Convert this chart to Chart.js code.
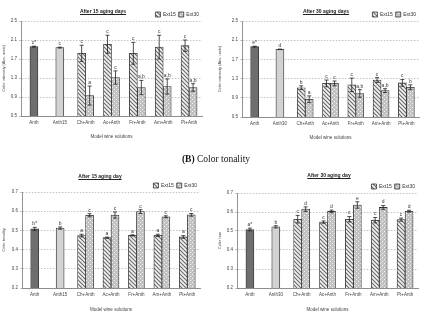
<!DOCTYPE html>
<html>
<head>
<meta charset="utf-8">
<script src="https://cdn.jsdelivr.net/npm/chart.js@4.4.0/dist/chart.umd.min.js"></script>
<style>
  body { margin: 0; background: #fff; width: 433px; height: 317px; overflow: hidden; position: relative; }
  .panel { position: absolute; }
  .ttl { position: absolute; font-family: "Liberation Sans Narrow", "Liberation Sans", Arial, sans-serif; font-size: 5px; font-weight: bold;
         text-decoration: underline; color: #222; transform: translateX(-50%); white-space: nowrap; z-index: 2; filter: grayscale(1); }
  #sec { position: absolute; left: 216px; top: 154px; transform: translateX(-50%); font-family: "Liberation Serif", serif;
         font-size: 9.5px; color: #111; white-space: nowrap; filter: grayscale(1); }
</style>
</head>
<body>
<canvas id="c1" class="panel" width="208" height="140" style="left:0;top:0"></canvas>
<canvas id="c2" class="panel" width="205" height="141" style="left:216px;top:0"></canvas>
<canvas id="c3" class="panel" width="204" height="142" style="left:0;top:171px"></canvas>
<canvas id="c4" class="panel" width="204" height="141" style="left:216px;top:172px"></canvas>
<div class="ttl" style="left:103px;top:8px">After 15 aging days</div>
<div class="ttl" style="left:326px;top:8px">After 30 aging days</div>
<div class="ttl" style="left:100px;top:173px">After 15 aging day</div>
<div class="ttl" style="left:329px;top:172px">After 30 aging day</div>
<div id="sec"><b>(B)</b> Color tonality</div>
<script>
const labels15 = ["Anth", "Anth15", "Ch+Anth", "Ac+Anth", "Fr+Anth", "Am+Anth", "Pt+Anth"];
const labels30 = ["Anth", "Anth30", "Ch+Anth", "Ac+Anth", "Fr+Anth", "Am+Anth", "Pt+Anth"];

// Colour intensity, after 15 days
const int15Control = [1.96, 1.94];
const int15ControlErr = [0.01, 0.01];
const int15ControlTags = ["c*", "c"];
const int15Ext15 = [1.82, 2.01, 1.82, 1.95, 1.98];
const int15Ext15Err = [0.17, 0.19, 0.23, 0.25, 0.12];
const int15Ext15Tags = ["c", "c", "c", "c", "c"];
const int15Ext30 = [0.93, 1.31, 1.10, 1.12, 1.10];
const int15Ext30Err = [0.20, 0.14, 0.15, 0.16, 0.08];
const int15Ext30Tags = ["a", "c", "a,b", "a,b", "a,b"];

// Colour intensity, after 30 days
const int30Control = [1.965, 1.91];
const int30ControlErr = [0.01, 0.005];
const int30ControlTags = ["e*", "d"];
const int30Ext15 = [1.11, 1.20, 1.17, 1.27, 1.21];
const int30Ext15Err = [0.04, 0.07, 0.14, 0.05, 0.07];
const int30Ext15Tags = ["b", "c", "c", "c", "c"];
const int30Ext30 = [0.87, 1.20, 0.99, 1.05, 1.12];
const int30Ext30Err = [0.07, 0.05, 0.08, 0.04, 0.05];
const int30Ext30Tags = ["a", "c", "a,b", "a,b", "b"];

// Colour tonality, after 15 days
const ton15Control = [0.508, 0.512];
const ton15ControlErr = [0.008, 0.006];
const ton15ControlTags = ["b*", "b"];
const ton15Ext15 = [0.473, 0.462, 0.474, 0.474, 0.466];
const ton15Ext15Err = [0.007, 0.003, 0.003, 0.006, 0.007];
const ton15Ext15Tags = ["a", "a", "a", "a", "a"];
const ton15Ext30 = [0.579, 0.580, 0.598, 0.571, 0.581];
const ton15Ext30Err = [0.008, 0.016, 0.010, 0.005, 0.007];
const ton15Ext30Tags = ["c", "c", "c", "c", "c"];

// Colour hue, after 30 days
const hue30Control = [0.508, 0.522];
const hue30ControlErr = [0.007, 0.006];
const hue30ControlTags = ["a*", "b"];
const hue30Ext15 = [0.562, 0.547, 0.562, 0.557, 0.560];
const hue30Ext15Err = [0.020, 0.006, 0.014, 0.014, 0.008];
const hue30Ext15Tags = ["c", "c", "c", "c", "c"];
const hue30Ext30 = [0.615, 0.603, 0.637, 0.624, 0.604];
const hue30Ext30Err = [0.012, 0.007, 0.017, 0.010, 0.005];
const hue30Ext30Tags = ["d", "d", "e", "d", "d"];

const FONT = "'Liberation Sans Narrow', 'Liberation Sans', Arial, sans-serif";

function hatchPattern() {
  const c = document.createElement("canvas");
  c.width = 4; c.height = 4;
  const g = c.getContext("2d");
  g.fillStyle = "#f2f2f2"; g.fillRect(0, 0, 4, 4);
  g.strokeStyle = "#6a6a6a"; g.lineWidth = 1.1;
  g.beginPath();
  g.moveTo(-1, -1); g.lineTo(5, 5);
  g.moveTo(-1, 3); g.lineTo(1, 5);
  g.moveTo(3, -1); g.lineTo(5, 1);
  g.stroke();
  return g.createPattern(c, "repeat");
}

function dotPattern() {
  const c = document.createElement("canvas");
  c.width = 4; c.height = 4;
  const g = c.getContext("2d");
  g.fillStyle = "#c2c2c2"; g.fillRect(0, 0, 4, 4);
  g.fillStyle = "#f4f4f4";
  g.fillRect(0, 0, 1, 1); g.fillRect(2, 2, 1, 1);
  return g.createPattern(c, "repeat");
}

const pad = (arr, before) => [...Array(before).fill(null), ...arr];

function makeDatasets(ctl, ctlErr, ctlTags, e15, e15Err, e15Tags, e30, e30Err, e30Tags) {
  return [
    { label: "ctl1", data: [ctl[0], null, null, null, null, null, null], err: [ctlErr[0]], tags: [ctlTags[0]], backgroundColor: "#6e6e6e" },
    { label: "ctl2", data: [null, ctl[1], null, null, null, null, null], err: [null, ctlErr[1]], tags: [null, ctlTags[1]], backgroundColor: "#d2d2d2" },
    { label: "Ext15", data: pad(e15, 2), err: pad(e15Err, 2), tags: pad(e15Tags, 2), backgroundColor: hatchPattern() },
    { label: "Ext30", data: pad(e30, 2), err: pad(e30Err, 2), tags: pad(e30Tags, 2), backgroundColor: dotPattern() },
  ];
}

const errorBars = {
  id: "errorBars",
  afterDatasetsDraw(chart) {
    const ctx = chart.ctx, y = chart.scales.y;
    ctx.save();
    chart.data.datasets.forEach((ds, di) => {
      chart.getDatasetMeta(di).data.forEach((bar, i) => {
        const v = ds.data[i];
        if (v == null) return;
        const e = ds.err[i] || 0;
        const top = y.getPixelForValue(v + e), bot = y.getPixelForValue(v - e);
        ctx.strokeStyle = "#222";
        ctx.lineWidth = 0.8;
        ctx.beginPath();
        ctx.moveTo(bar.x, top); ctx.lineTo(bar.x, bot);
        ctx.moveTo(bar.x - 2, top); ctx.lineTo(bar.x + 2, top);
        ctx.moveTo(bar.x - 2, bot); ctx.lineTo(bar.x + 2, bot);
        ctx.stroke();
        ctx.fillStyle = "#333";
        ctx.font = "5px " + FONT;
        ctx.textAlign = "center";
        ctx.textBaseline = "bottom";
        ctx.fillText(ds.tags[i], bar.x, top - 1);
      });
    });
    ctx.restore();
  }
};

function chartConfig(labels, datasets, yMin, yMax, step, yTitle, yWidth, xHeight, padRight) {
  return {
    type: "bar",
    data: { labels, datasets },
    options: {
      responsive: false,
      animation: false,
      skipNull: true,
      datasets: { bar: { barThickness: 8, borderWidth: 0.8, borderColor: "#333" } },
      layout: { padding: { top: 2, right: padRight, left: 0, bottom: 0 } },
      plugins: {
        tooltip: { enabled: false },
        legend: {
          position: "top",
          align: "end",
          maxHeight: 12,
          labels: {
            filter: (item) => item.datasetIndex >= 2,
            boxWidth: 5, boxHeight: 5, padding: 3,
            color: "#333", font: { size: 5, family: FONT }
          }
        }
      },
      scales: {
        x: {
          grid: { display: false, drawTicks: false },
          border: { display: true, color: "#777", width: 0.8 },
          ticks: { color: "#444", font: { size: 4.5, family: FONT }, padding: 4, maxRotation: 0, autoSkip: false },
          title: { display: true, text: "Model wine solutions", color: "#444", font: { size: 4.5, family: FONT }, padding: { top: 0, bottom: 1 } },
          afterFit: (s) => { s.height = xHeight; }
        },
        y: {
          min: yMin, max: yMax,
          ticks: { stepSize: step, color: "#444", font: { size: 4.5, family: FONT }, padding: 2, callback: (v) => v.toFixed(1) },
          grid: { color: "#9a9a9a", lineWidth: 0.6, tickLength: 2 },
          border: { display: true, color: "#777", width: 0.8, dash: [1.5, 1.5] },
          title: { display: true, text: yTitle, color: "#444", font: { size: 4, family: FONT }, padding: { top: 1, bottom: 0 } },
          afterFit: (s) => { s.width = yWidth; }
        }
      }
    },
    plugins: [errorBars]
  };
}

// place each canvas so that its plot area lands on the target rows
function placeChart(id, plotTop, plotBottom, xHeight, makeCfg) {
  const canvas = document.getElementById(id);
  const probe = new Chart(canvas, makeCfg());
  const offset = probe.chartArea.top;
  probe.destroy();
  const top = plotTop - offset;
  canvas.style.top = top + "px";
  canvas.height = plotBottom - top + xHeight;
  return new Chart(canvas, makeCfg());
}

placeChart("c1", 21, 116, 24, () => chartConfig(labels15,
  makeDatasets(int15Control, int15ControlErr, int15ControlTags, int15Ext15, int15Ext15Err, int15Ext15Tags, int15Ext30, int15Ext30Err, int15Ext30Tags),
  0.5, 2.5, 0.4, "Color intensity (Abs. units)", 21, 24, 6));
placeChart("c2", 21, 117, 24, () => chartConfig(labels30,
  makeDatasets(int30Control, int30ControlErr, int30ControlTags, int30Ext15, int30Ext15Err, int30Ext15Tags, int30Ext30, int30Ext30Err, int30Ext30Tags),
  0.5, 2.5, 0.4, "Color intensity (Abs. units)", 26, 24, 2));
placeChart("c3", 192, 288, 25, () => chartConfig(labels15,
  makeDatasets(ton15Control, ton15ControlErr, ton15ControlTags, ton15Ext15, ton15Ext15Err, ton15Ext15Tags, ton15Ext30, ton15Ext30Err, ton15Ext30Tags),
  0.2, 0.7, 0.1, "Color tonality", 22, 25, 4));
placeChart("c4", 193, 288, 25, () => chartConfig(labels30,
  makeDatasets(hue30Control, hue30ControlErr, hue30ControlTags, hue30Ext15, hue30Ext15Err, hue30Ext15Tags, hue30Ext30, hue30Ext30Err, hue30Ext30Tags),
  0.2, 0.7, 0.1, "Color hue", 21, 25, 2));
</script>
</body>
</html>
